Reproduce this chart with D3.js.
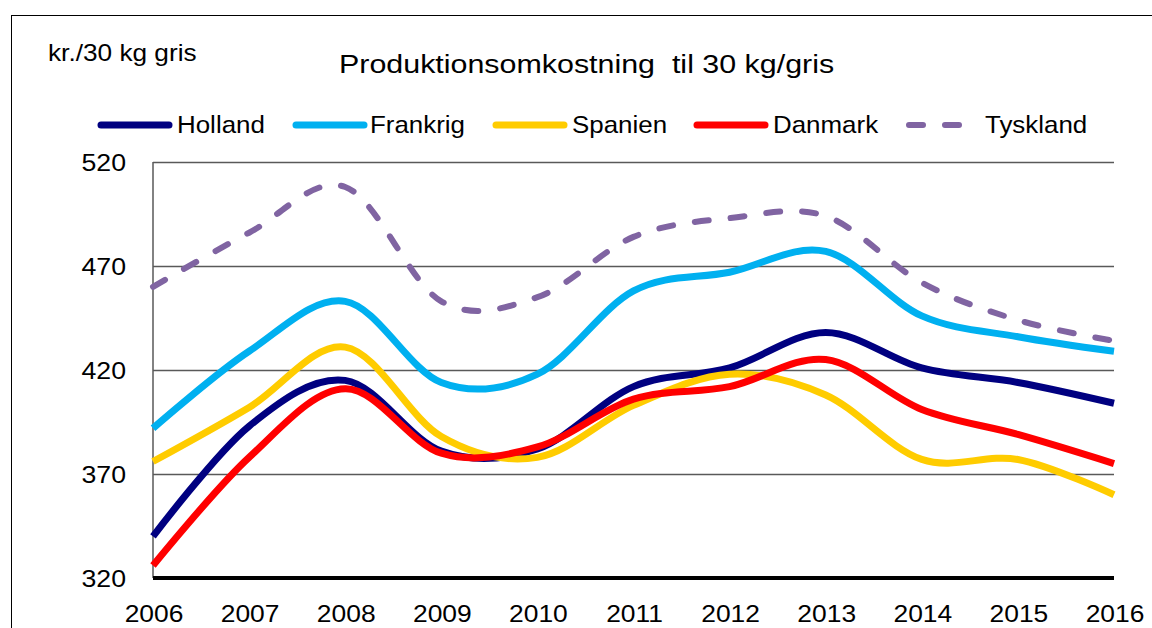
<!DOCTYPE html>
<html>
<head>
<meta charset="utf-8">
<script src="https://cdn.jsdelivr.net/npm/d3@7"></script>
<style>
  html, body { margin: 0; padding: 0; background: #fff; }
  svg { display: block; font-family: "Liberation Sans", Arial, sans-serif; }
</style>
</head>
<body>
<div id="chart"></div>
<script>
  // chart data
  var years = [2006, 2007, 2008, 2009, 2010, 2011, 2012, 2013, 2014, 2015, 2016];
  var yTicks = [320, 370, 420, 470, 520];

  var holland  = [340, 393, 415, 381, 382, 412, 421, 438, 421, 414, 404];
  var frankrig = [392, 429, 453, 414, 418, 458, 467, 477, 446, 436, 429];
  var spanien  = [376, 402, 431, 388, 378, 403, 418, 408, 377, 377, 360];
  var danmark  = [326, 378, 411, 380, 383, 406, 412, 425, 401, 389, 375];
  var tyskland = [460, 486, 508, 453, 455, 484, 493, 494, 462, 444, 434];

  var seriesNames = ['Holland', 'Frankrig', 'Spanien', 'Danmark', 'Tyskland'];
  var seriesValues = [holland, frankrig, spanien, danmark, tyskland];

  var title = 'Produktionsomkostning\u00a0 til 30 kg/gris';
  var unitLabel = 'kr./30 kg gris';

  (function () {
    'use strict';

    var W = 1152, H = 628;
    var colors = ['#000080', '#00b0f0', '#ffcc00', '#ff0000', '#8064a2'];
    var dashed = [false, false, false, false, true];

    var plot = {left: 153, right: 1114, top: 162, bottom: 578};

    var svg = d3.select('#chart').append('svg')
      .attr('width', W)
      .attr('height', H);

    // the source picture has its text a bit wider than normal,
    // so stretch each label horizontally around its anchor
    function label(x, y, txt, size, sx, anchor) {
      return svg.append('text')
        .attr('transform', 'translate(' + x + ',' + y + ') scale(' + sx + ',1)')
        .attr('text-anchor', anchor || 'start')
        .style('font-size', size + 'px')
        .style('fill', '#000')
        .text(txt);
    }

    // outer frame of the chart object, runs off right and bottom edges
    svg.append('rect')
      .attr('x', 11.5).attr('y', 15.5)
      .attr('width', 1150).attr('height', 700)
      .style('fill', 'none')
      .style('stroke', '#000')
      .style('stroke-width', 1);

    var x = d3.scaleLinear()
      .domain([years[0], years[years.length - 1]])
      .range([plot.left, plot.right]);
    var y = d3.scaleLinear()
      .domain([320, 520])
      .range([plot.bottom, plot.top]);

    // gridlines
    var grid = svg.append('g')
      .attr('transform', 'translate(' + plot.left + ',0)')
      .call(d3.axisLeft(y).tickValues(yTicks.slice(1))
        .tickSize(-(plot.right - plot.left)).tickFormat(''));
    grid.select('.domain').remove();
    grid.selectAll('line')
      .style('stroke', '#595959')
      .style('stroke-width', 1.5);

    // left border of the plot area
    svg.append('line')
      .attr('x1', plot.left).attr('x2', plot.left)
      .attr('y1', plot.top).attr('y2', plot.bottom)
      .style('stroke', '#595959')
      .style('stroke-width', 1.5);

    // series
    var line = d3.line()
      .x(function (d, i) { return x(years[i]); })
      .y(function (d) { return y(d); })
      .curve(d3.curveCardinal.tension(0));

    seriesValues.forEach(function (vals, k) {
      var p = svg.append('path')
        .attr('d', line(vals))
        .style('fill', 'none')
        .style('stroke', colors[k])
        .style('stroke-width', dashed[k] ? 6 : 7)
        .style('stroke-linejoin', 'round');
      if (dashed[k]) {
        p.style('stroke-dasharray', '14,22')
         .style('stroke-linecap', 'round');
      }
    });

    // x axis: thick black base line
    svg.append('line')
      .attr('x1', plot.left).attr('x2', plot.right)
      .attr('y1', plot.bottom).attr('y2', plot.bottom)
      .style('stroke', '#000')
      .style('stroke-width', 4);

    // y tick labels
    yTicks.forEach(function (v) {
      label(126, y(v) + 8.5, d3.format('d')(v), 24.5, 1.09, 'end');
    });

    // x tick labels (kept just inside the bottom edge)
    years.forEach(function (yr) {
      label(x(yr) + 1, 622, d3.format('d')(yr), 24, 1.1, 'middle');
    });

    // title and unit
    label(339, 73, title, 26, 1.17);
    label(48, 61, unitLabel, 23, 1.14);

    // legend
    var legendX = [98, 293, 493, 694, 906];
    var textX = [177, 370, 572, 773, 985];
    var legendY = 125;
    seriesNames.forEach(function (name, k) {
      var sw = svg.append('line')
        .attr('x1', legendX[k] + 3).attr('x2', legendX[k] + 71)
        .attr('y1', legendY).attr('y2', legendY)
        .style('stroke', colors[k])
        .style('stroke-width', dashed[k] ? 6 : 7)
        .style('stroke-linecap', 'round');
      if (dashed[k]) {
        sw.style('stroke-dasharray', '14,22');
      }
      label(textX[k], legendY + 8, name, 24, 1.08);
    });
  })();
</script>
</body>
</html>
